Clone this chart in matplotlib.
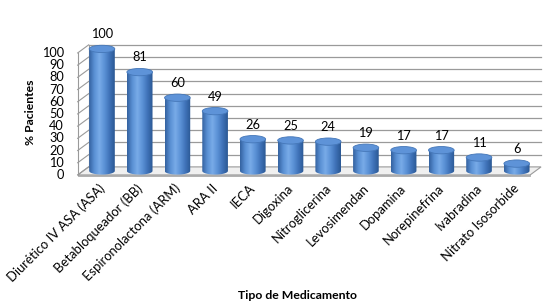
import numpy as np
import matplotlib
matplotlib.use("Agg")
import matplotlib.pyplot as plt
from matplotlib.patches import Ellipse, Polygon, PathPatch
from matplotlib.path import Path
from matplotlib.colors import LinearSegmentedColormap

categories = ["Diurético IV ASA (ASA)", "Betabloqueador (BB)", "Espironolactona (ARM)",
              "ARA II", "IECA", "Digoxina", "Nitroglicerina", "Levosimendan",
              "Dopamina", "Norepinefrina", "Ivabradina", "Nitrato Isosorbide"]
values = [100, 81, 60, 49, 26, 25, 24, 19, 17, 17, 11, 6]
yticks = list(range(0, 101, 10))

plt.rcParams['font.family'] = ['Lato', 'DejaVu Sans']

fig = plt.figure(figsize=(5.55, 3.05), dpi=100)
ax = fig.add_axes([0, 0, 1, 1])
ax.axis("off")

# pseudo 3d offsets (back wall relative to front plane)
DX, DY = 0.29, 6.6
n = len(categories)
x0, x1 = -0.5, n - 0.5
grid_c = "#9a9a9a"

# floor
floor = Polygon([(x0, 0), (x1, 0), (x1 + DX, DY), (x0 + DX, DY)],
                facecolor="#f0f0f0", edgecolor=grid_c, lw=0.8, zorder=1)
ax.add_patch(floor)
ax.add_patch(Polygon([(x0, 0), (x1, 0), (x1, -1.0), (x0, -1.0)],
                     facecolor="#d8d8d8", edgecolor=grid_c, lw=0.5, zorder=1))

# back wall grid + side wall
for v in yticks:
    if v > 0:
        ax.plot([x0 + DX, x1 + DX], [v + DY, v + DY], color=grid_c, lw=0.9, zorder=1)
    ax.plot([x0, x0 + DX], [v, v + DY], color=grid_c, lw=0.8, zorder=1)
    ax.text(x0 - 0.36, v, str(v), ha="right", va="center", fontsize=9.2, color="#000000")
ax.plot([x0, x0], [0, 100], color=grid_c, lw=0.8, zorder=1)
ax.plot([x0 + DX, x0 + DX], [DY, 100 + DY], color=grid_c, lw=0.8, zorder=1)

# cylinder bars
cmap = LinearSegmentedColormap.from_list(
    "cyl", ["#3462a0", "#5a90d4", "#78abe8", "#5b91d6", "#3f72b8", "#2a5894"])
grad = np.linspace(0, 1, 64).reshape(1, -1)
w = 0.68
eh = 6.0
for i, v in enumerate(values):
    cx = i + DX / 2
    b = DY / 2
    top = v + DY / 2
    th = np.linspace(np.pi, 2 * np.pi, 40)
    arc = np.column_stack([cx + w / 2 * np.cos(th), b + eh / 2 * np.sin(th)])
    verts = np.vstack([[cx - w / 2, top], arc, [cx + w / 2, top], [cx - w / 2, top]])
    clip = PathPatch(Path(verts), facecolor="none", edgecolor="none")
    ax.add_patch(clip)
    im = ax.imshow(grad, extent=[cx - w / 2, cx + w / 2, b - eh / 2, top],
                   aspect="auto", cmap=cmap, zorder=3, interpolation="bilinear")
    im.set_clip_path(clip)
    ax.add_patch(Ellipse((cx, top), w, eh, facecolor="#5e93d8",
                         edgecolor="#4577b8", lw=0.6, zorder=4))
    ax.text(cx, top + 12, str(v), ha="center", va="center", fontsize=9.2, zorder=5)

# category labels
for i, lab in enumerate(categories):
    ax.text(i + 0.05, -5.7, lab, rotation=45, ha="right", va="top",
            rotation_mode="anchor", fontsize=9.4)

ax.text(-1.76, 51, "% Pacientes", rotation=90, ha="center", va="center",
        fontsize=8.8, fontweight="bold")
ax.text(5.32, -99, "Tipo de Medicamento", ha="center", va="center",
        fontsize=8.8, fontweight="bold")

ax.set_xlim(-2.56, 12.16)
ax.set_ylim(-106.6, 143.4)
fig.savefig("out.png", dpi=100)
